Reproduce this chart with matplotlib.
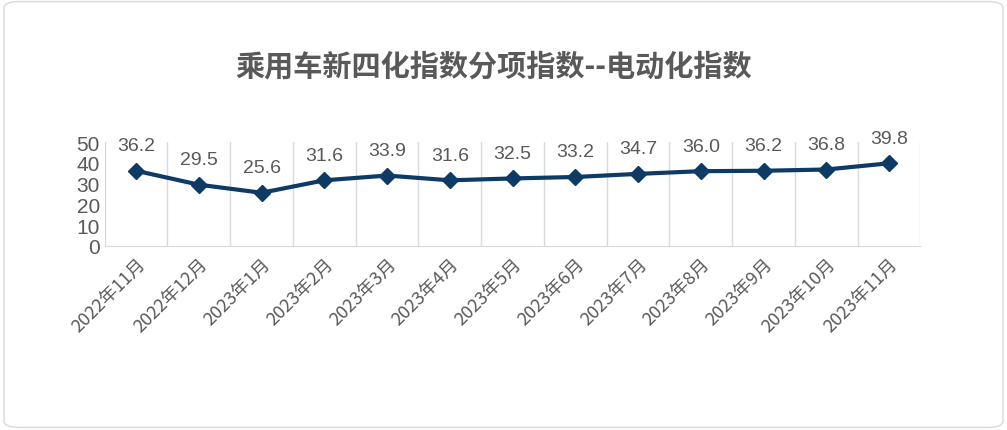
import matplotlib.pyplot as plt
from matplotlib.patches import FancyBboxPatch

plt.rcParams['font.family'] = ['Noto Sans CJK SC', 'DejaVu Sans']

months = ['2022年11月', '2022年12月', '2023年1月', '2023年2月', '2023年3月', '2023年4月',
          '2023年5月', '2023年6月', '2023年7月', '2023年8月', '2023年9月', '2023年10月', '2023年11月']
values = [36.2, 29.5, 25.6, 31.6, 33.9, 31.6, 32.5, 33.2, 34.7, 36.0, 36.2, 36.8, 39.8]

gray = '#595959'
fig = plt.figure(figsize=(10.07, 4.31), dpi=100)
fig.patches.append(FancyBboxPatch((0.004, 0.006), 0.992, 0.988, boxstyle='round,pad=0,rounding_size=0.015',
                                  transform=fig.transFigure, fc='white', ec='#d9d9d9', lw=1, zorder=-10))
ax = fig.add_axes([0.104, 0.427, 0.81, 0.241])
ax.patch.set_alpha(0)
x = range(len(months))
ax.plot(x, values, color='#0E3A66', lw=3, marker='D', ms=8, zorder=3)
for i, v in zip(x, values):
    ax.annotate(f'{v:.1f}', (i, v), xytext=(0, 12), textcoords='offset points',
                ha='center', va='bottom', fontsize=14, color=gray, family='Liberation Sans')

ax.set_xlim(-0.5, len(months) - 0.5)
ax.set_ylim(0, 50)
ax.set_yticks(range(0, 51, 10))
ax.set_xticks(x)
ax.set_xticklabels(months, rotation=45, ha='right', rotation_mode='anchor', fontsize=13, color=gray)
for b in range(len(months) + 1):
    ax.axvline(b - 0.5, color='#d9d9d9', lw=1, zorder=0)
ax.tick_params(axis='y', labelsize=15, colors=gray, length=0)
ax.tick_params(axis='x', length=0, pad=6)
for lab in ax.get_yticklabels():
    lab.set_family('Liberation Sans')
for s in ['top', 'right', 'left']:
    ax.spines[s].set_visible(False)
ax.spines['bottom'].set_color('#d9d9d9')

fig.text(0.49, 0.845, '乘用车新四化指数分项指数--电动化指数', ha='center', va='center',
         fontsize=21, fontweight='bold', color=gray)
fig.savefig('out.png', dpi=100)
